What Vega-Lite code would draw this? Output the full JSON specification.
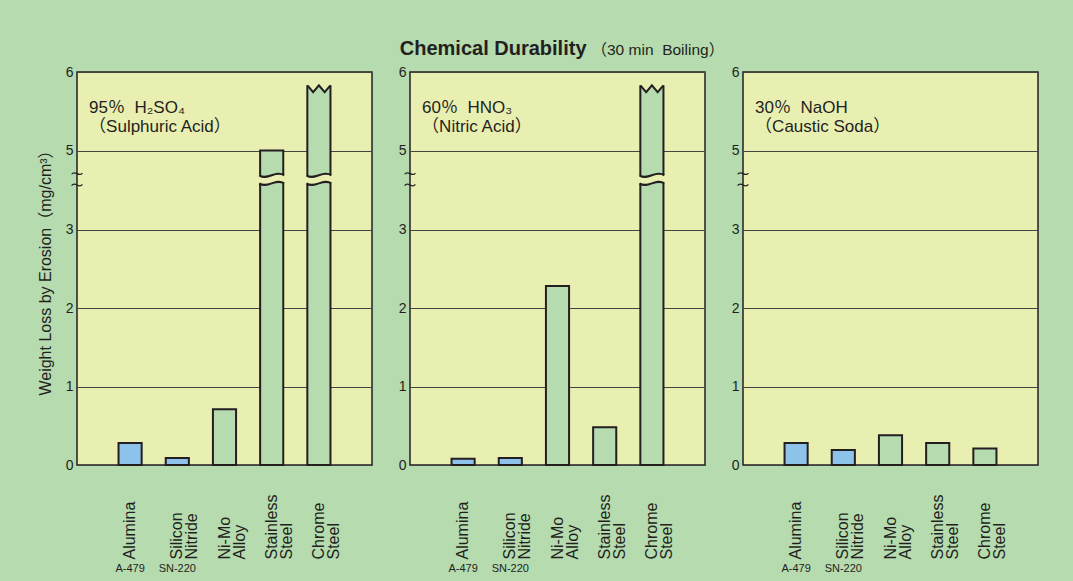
{
  "$schema": "https://vega.github.io/schema/vega-lite/v6.json",
  "padding": {"left": 36, "top": 37, "right": 40, "bottom": 12},
  "background": "#b5dbaf",
  "datasets": {
    "bars": [
      {"acid": "H2SO4", "material": "Alumina", "kind": "ceramic", "value": 0.28},
      {"acid": "H2SO4", "material": "Silicon Nitride", "kind": "ceramic", "value": 0.09},
      {"acid": "H2SO4", "material": "Ni-Mo Alloy", "kind": "metal", "value": 0.71},
      {"acid": "H2SO4", "material": "Stainless Steel", "kind": "metal", "value": 5.0},
      {"acid": "H2SO4", "material": "Chrome Steel", "kind": "metal", "value": 5.83},
      {"acid": "HNO3", "material": "Alumina", "kind": "ceramic", "value": 0.08},
      {"acid": "HNO3", "material": "Silicon Nitride", "kind": "ceramic", "value": 0.09},
      {"acid": "HNO3", "material": "Ni-Mo Alloy", "kind": "metal", "value": 2.28},
      {"acid": "HNO3", "material": "Stainless Steel", "kind": "metal", "value": 0.48},
      {"acid": "HNO3", "material": "Chrome Steel", "kind": "metal", "value": 5.83},
      {"acid": "NaOH", "material": "Alumina", "kind": "ceramic", "value": 0.28},
      {"acid": "NaOH", "material": "Silicon Nitride", "kind": "ceramic", "value": 0.19},
      {"acid": "NaOH", "material": "Ni-Mo Alloy", "kind": "metal", "value": 0.38},
      {"acid": "NaOH", "material": "Stainless Steel", "kind": "metal", "value": 0.28},
      {"acid": "NaOH", "material": "Chrome Steel", "kind": "metal", "value": 0.21}
    ],
    "breaks": [
      {"acid": "H2SO4", "material": "Stainless Steel"},
      {"acid": "H2SO4", "material": "Chrome Steel"},
      {"acid": "HNO3", "material": "Chrome Steel"}
    ],
    "tops": [
      {"acid": "H2SO4", "material": "Chrome Steel"},
      {"acid": "HNO3", "material": "Chrome Steel"}
    ],
    "notes": [
      {"acid": "H2SO4", "note": "95％\u00a0\u00a0H₂SO₄\n（Sulphuric Acid）"},
      {"acid": "HNO3", "note": "60％\u00a0\u00a0HNO₃\n（Nitric Acid）"},
      {"acid": "NaOH", "note": "30％\u00a0\u00a0NaOH\n（Caustic Soda）"}
    ],
    "codes": [
      {"material": "Alumina", "code": "A-479"},
      {"material": "Silicon Nitride", "code": "SN-220"}
    ]
  },
  "spacing": 38,
  "bounds": "flush",
  "resolve": {"scale": {"x": "independent", "y": "independent"}},
  "hconcat": [
    {
      "width": 295, "height": 393,
      "layer": [
        {
          "data": {"name": "bars"},
          "transform": [{"filter": "datum.acid === 'H2SO4'"}],
          "mark": {"type": "bar", "stroke": "#231f20", "strokeWidth": 2, "opacity": 1},
          "encoding": {
            "x": {"field": "material", "type": "nominal", "title": null,
                  "scale": {"domain": ["Alumina", "Silicon Nitride", "Ni-Mo Alloy", "Stainless Steel", "Chrome Steel"], "paddingInner": 0.51, "paddingOuter": 0.88},
                  "axis": {"labelExpr": "split(datum.label, ' ')"}},
            "y": {"field": "value", "type": "quantitative", "title": "Weight Loss by Erosion（mg/cm³）",
                  "scale": {"domain": [0, 3, 5, 6], "range": [393, 157.5, 78.5, 0], "nice": false, "zero": false},
                  "axis": {"values": [0, 1, 2, 3, 5, 6], "format": "d"}},
            "color": {"field": "kind", "type": "nominal", "scale": {"domain": ["ceramic", "metal"], "range": ["#8dc3ea", "#b5dbaf"]}, "legend": null}
          }
        },
        {
          "data": {"name": "breaks"},
          "transform": [{"filter": "datum.acid === 'H2SO4'"}],
          "mark": {"type": "point", "shape": "M-1.15,-0.35 C-0.38,0.15 0.38,-0.85 1.15,-0.35 L1.15,0.35 C0.38,-0.15 -0.38,0.85 -1.15,0.35 Z", "filled": true, "fill": "#e9efb0", "strokeWidth": 0, "size": 529, "opacity": 1},
          "encoding": {
            "x": {"field": "material", "type": "nominal", "title": null},
            "y": {"datum": 4.27, "type": "quantitative", "title": "Weight Loss by Erosion（mg/cm³）"}
          }
        },
        {
          "data": {"name": "breaks"},
          "transform": [{"filter": "datum.acid === 'H2SO4'"}],
          "mark": {"type": "point", "shape": "M-1.08,-0.35 C-0.36,0.15 0.36,-0.85 1.08,-0.35 M-1.08,0.35 C-0.36,0.85 0.36,-0.15 1.08,0.35", "filled": false, "stroke": "#231f20", "strokeWidth": 2, "size": 529, "opacity": 1},
          "encoding": {
            "x": {"field": "material", "type": "nominal", "title": null},
            "y": {"datum": 4.27, "type": "quantitative", "title": "Weight Loss by Erosion（mg/cm³）"}
          }
        },
        {
          "data": {"name": "tops"},
          "transform": [{"filter": "datum.acid === 'H2SO4'"}],
          "mark": {"type": "point", "shape": "M-1.15,-0.2 L1.15,-0.2 L1.15,0 L1,0 L0.5,0.6 L0,0 L-0.5,0.6 L-1,0 L-1.15,0 Z", "filled": true, "fill": "#e9efb0", "strokeWidth": 0, "size": 529, "opacity": 1},
          "encoding": {
            "x": {"field": "material", "type": "nominal", "title": null},
            "y": {"datum": 5.83, "type": "quantitative", "title": "Weight Loss by Erosion（mg/cm³）"}
          }
        },
        {
          "data": {"name": "tops"},
          "transform": [{"filter": "datum.acid === 'H2SO4'"}],
          "mark": {"type": "point", "shape": "M-1,0 L-0.5,0.6 L0,0 L0.5,0.6 L1,0", "filled": false, "stroke": "#231f20", "strokeWidth": 2, "size": 529, "opacity": 1},
          "encoding": {
            "x": {"field": "material", "type": "nominal", "title": null},
            "y": {"datum": 5.83, "type": "quantitative", "title": "Weight Loss by Erosion（mg/cm³）"}
          }
        },
        {
          "data": {"values": [{}]},
          "mark": {"type": "point", "shape": "M-0.9,-0.85 C-0.3,-1.7 0.3,-0.2 0.9,-1.05 M-0.9,1.05 C-0.3,0.2 0.3,1.7 0.9,0.85", "filled": false, "stroke": "#231f20", "strokeWidth": 1.2, "size": 144, "opacity": 1},
          "encoding": {
            "x": {"value": 0},
            "y": {"datum": 4.27, "type": "quantitative", "title": "Weight Loss by Erosion（mg/cm³）"}
          }
        },
        {
          "data": {"name": "notes"},
          "transform": [{"filter": "datum.acid === 'H2SO4'"}],
          "mark": {"type": "text", "align": "left", "baseline": "alphabetic", "dx": -41, "fontSize": 17, "lineHeight": 19, "lineBreak": "\n", "color": "#231f20", "font": "Liberation Sans, Noto Sans CJK JP, sans-serif"},
          "encoding": {
            "x": {"datum": "Alumina", "type": "nominal", "title": null},
            "y": {"datum": 5.48, "type": "quantitative", "title": "Weight Loss by Erosion（mg/cm³）"},
            "text": {"field": "note"}
          }
        },
        {
          "data": {"name": "codes"},
          "mark": {"type": "text", "align": "center", "baseline": "middle", "fontSize": 11, "color": "#231f20"},
          "encoding": {
            "x": {"field": "material", "type": "nominal", "title": null},
            "y": {"datum": -1.33, "type": "quantitative", "title": "Weight Loss by Erosion（mg/cm³）"},
            "text": {"field": "code"}
          }
        }
      ]
    },
    {
      "width": 295, "height": 393,
      "layer": [
        {
          "data": {"name": "bars"},
          "transform": [{"filter": "datum.acid === 'HNO3'"}],
          "mark": {"type": "bar", "stroke": "#231f20", "strokeWidth": 2, "opacity": 1},
          "encoding": {
            "x": {"field": "material", "type": "nominal", "title": null,
                  "scale": {"domain": ["Alumina", "Silicon Nitride", "Ni-Mo Alloy", "Stainless Steel", "Chrome Steel"], "paddingInner": 0.51, "paddingOuter": 0.88},
                  "axis": {"labelExpr": "split(datum.label, ' ')"}},
            "y": {"field": "value", "type": "quantitative", "title": null,
                  "scale": {"domain": [0, 3, 5, 6], "range": [393, 157.5, 78.5, 0], "nice": false, "zero": false},
                  "axis": {"values": [0, 1, 2, 3, 5, 6], "format": "d"}},
            "color": {"field": "kind", "type": "nominal", "scale": {"domain": ["ceramic", "metal"], "range": ["#8dc3ea", "#b5dbaf"]}, "legend": null}
          }
        },
        {
          "data": {"name": "breaks"},
          "transform": [{"filter": "datum.acid === 'HNO3'"}],
          "mark": {"type": "point", "shape": "M-1.15,-0.35 C-0.38,0.15 0.38,-0.85 1.15,-0.35 L1.15,0.35 C0.38,-0.15 -0.38,0.85 -1.15,0.35 Z", "filled": true, "fill": "#e9efb0", "strokeWidth": 0, "size": 529, "opacity": 1},
          "encoding": {
            "x": {"field": "material", "type": "nominal", "title": null},
            "y": {"datum": 4.27, "type": "quantitative", "title": null}
          }
        },
        {
          "data": {"name": "breaks"},
          "transform": [{"filter": "datum.acid === 'HNO3'"}],
          "mark": {"type": "point", "shape": "M-1.08,-0.35 C-0.36,0.15 0.36,-0.85 1.08,-0.35 M-1.08,0.35 C-0.36,0.85 0.36,-0.15 1.08,0.35", "filled": false, "stroke": "#231f20", "strokeWidth": 2, "size": 529, "opacity": 1},
          "encoding": {
            "x": {"field": "material", "type": "nominal", "title": null},
            "y": {"datum": 4.27, "type": "quantitative", "title": null}
          }
        },
        {
          "data": {"name": "tops"},
          "transform": [{"filter": "datum.acid === 'HNO3'"}],
          "mark": {"type": "point", "shape": "M-1.15,-0.2 L1.15,-0.2 L1.15,0 L1,0 L0.5,0.6 L0,0 L-0.5,0.6 L-1,0 L-1.15,0 Z", "filled": true, "fill": "#e9efb0", "strokeWidth": 0, "size": 529, "opacity": 1},
          "encoding": {
            "x": {"field": "material", "type": "nominal", "title": null},
            "y": {"datum": 5.83, "type": "quantitative", "title": null}
          }
        },
        {
          "data": {"name": "tops"},
          "transform": [{"filter": "datum.acid === 'HNO3'"}],
          "mark": {"type": "point", "shape": "M-1,0 L-0.5,0.6 L0,0 L0.5,0.6 L1,0", "filled": false, "stroke": "#231f20", "strokeWidth": 2, "size": 529, "opacity": 1},
          "encoding": {
            "x": {"field": "material", "type": "nominal", "title": null},
            "y": {"datum": 5.83, "type": "quantitative", "title": null}
          }
        },
        {
          "data": {"values": [{}]},
          "mark": {"type": "point", "shape": "M-0.9,-0.85 C-0.3,-1.7 0.3,-0.2 0.9,-1.05 M-0.9,1.05 C-0.3,0.2 0.3,1.7 0.9,0.85", "filled": false, "stroke": "#231f20", "strokeWidth": 1.2, "size": 144, "opacity": 1},
          "encoding": {
            "x": {"value": 0},
            "y": {"datum": 4.27, "type": "quantitative", "title": null}
          }
        },
        {
          "data": {"name": "notes"},
          "transform": [{"filter": "datum.acid === 'HNO3'"}],
          "mark": {"type": "text", "align": "left", "baseline": "alphabetic", "dx": -41, "fontSize": 17, "lineHeight": 19, "lineBreak": "\n", "color": "#231f20", "font": "Liberation Sans, Noto Sans CJK JP, sans-serif"},
          "encoding": {
            "x": {"datum": "Alumina", "type": "nominal", "title": null},
            "y": {"datum": 5.48, "type": "quantitative", "title": null},
            "text": {"field": "note"}
          }
        },
        {
          "data": {"name": "codes"},
          "mark": {"type": "text", "align": "center", "baseline": "middle", "fontSize": 11, "color": "#231f20"},
          "encoding": {
            "x": {"field": "material", "type": "nominal", "title": null},
            "y": {"datum": -1.33, "type": "quantitative", "title": null},
            "text": {"field": "code"}
          }
        },
        {
          "data": {"values": [{}]},
          "mark": {"type": "text", "text": "Chemical Durability", "align": "right", "baseline": "alphabetic", "dx": 29, "fontSize": 20, "fontWeight": "bold", "color": "#231f20"},
          "encoding": {
            "x": {"datum": "Ni-Mo Alloy", "type": "nominal", "title": null},
            "y": {"datum": 6.22, "type": "quantitative", "title": null}
          }
        },
        {
          "data": {"values": [{}]},
          "mark": {"type": "text", "text": "（30 min\u00a0\u00a0Boiling）", "align": "left", "baseline": "alphabetic", "dx": 34, "fontSize": 15.5, "color": "#231f20", "font": "Liberation Sans, Noto Sans CJK JP, sans-serif"},
          "encoding": {
            "x": {"datum": "Ni-Mo Alloy", "type": "nominal", "title": null},
            "y": {"datum": 6.22, "type": "quantitative", "title": null}
          }
        }
      ]
    },
    {
      "width": 295, "height": 393,
      "layer": [
        {
          "data": {"name": "bars"},
          "transform": [{"filter": "datum.acid === 'NaOH'"}],
          "mark": {"type": "bar", "stroke": "#231f20", "strokeWidth": 2, "opacity": 1},
          "encoding": {
            "x": {"field": "material", "type": "nominal", "title": null,
                  "scale": {"domain": ["Alumina", "Silicon Nitride", "Ni-Mo Alloy", "Stainless Steel", "Chrome Steel"], "paddingInner": 0.51, "paddingOuter": 0.88},
                  "axis": {"labelExpr": "split(datum.label, ' ')"}},
            "y": {"field": "value", "type": "quantitative", "title": null,
                  "scale": {"domain": [0, 3, 5, 6], "range": [393, 157.5, 78.5, 0], "nice": false, "zero": false},
                  "axis": {"values": [0, 1, 2, 3, 5, 6], "format": "d"}},
            "color": {"field": "kind", "type": "nominal", "scale": {"domain": ["ceramic", "metal"], "range": ["#8dc3ea", "#b5dbaf"]}, "legend": null}
          }
        },
        {
          "data": {"values": [{}]},
          "mark": {"type": "point", "shape": "M-0.9,-0.85 C-0.3,-1.7 0.3,-0.2 0.9,-1.05 M-0.9,1.05 C-0.3,0.2 0.3,1.7 0.9,0.85", "filled": false, "stroke": "#231f20", "strokeWidth": 1.2, "size": 144, "opacity": 1},
          "encoding": {
            "x": {"value": 0},
            "y": {"datum": 4.27, "type": "quantitative", "title": null}
          }
        },
        {
          "data": {"name": "notes"},
          "transform": [{"filter": "datum.acid === 'NaOH'"}],
          "mark": {"type": "text", "align": "left", "baseline": "alphabetic", "dx": -41, "fontSize": 17, "lineHeight": 19, "lineBreak": "\n", "color": "#231f20", "font": "Liberation Sans, Noto Sans CJK JP, sans-serif"},
          "encoding": {
            "x": {"datum": "Alumina", "type": "nominal", "title": null},
            "y": {"datum": 5.48, "type": "quantitative", "title": null},
            "text": {"field": "note"}
          }
        },
        {
          "data": {"name": "codes"},
          "mark": {"type": "text", "align": "center", "baseline": "middle", "fontSize": 11, "color": "#231f20"},
          "encoding": {
            "x": {"field": "material", "type": "nominal", "title": null},
            "y": {"datum": -1.33, "type": "quantitative", "title": null},
            "text": {"field": "code"}
          }
        }
      ]
    }
  ],
  "config": {
    "font": "Liberation Sans, Noto Sans CJK JP, sans-serif",
    "view": {"fill": "#e9efb0", "stroke": "#231f20", "strokeWidth": 1.5},
    "axis": {"labelColor": "#231f20", "titleColor": "#231f20", "domain": false, "ticks": false, "labelFont": "Liberation Sans, Noto Sans CJK JP, sans-serif", "titleFont": "Liberation Sans, Noto Sans CJK JP, sans-serif"},
    "axisY": {"grid": true, "gridColor": "#444444", "gridWidth": 1, "gridOpacity": 1, "labelFontSize": 14, "labelPadding": 4, "titleFontSize": 16, "titleFontWeight": "normal", "titlePadding": 12, "zindex": 1},
    "axisX": {"grid": false, "labelAngle": 270, "labelAlign": "left", "labelBaseline": "middle", "labelPadding": 94, "labelFontSize": 16, "labelLineHeight": 15, "labelOverlap": false, "labelBound": false, "labelFlush": false}
  }
}
